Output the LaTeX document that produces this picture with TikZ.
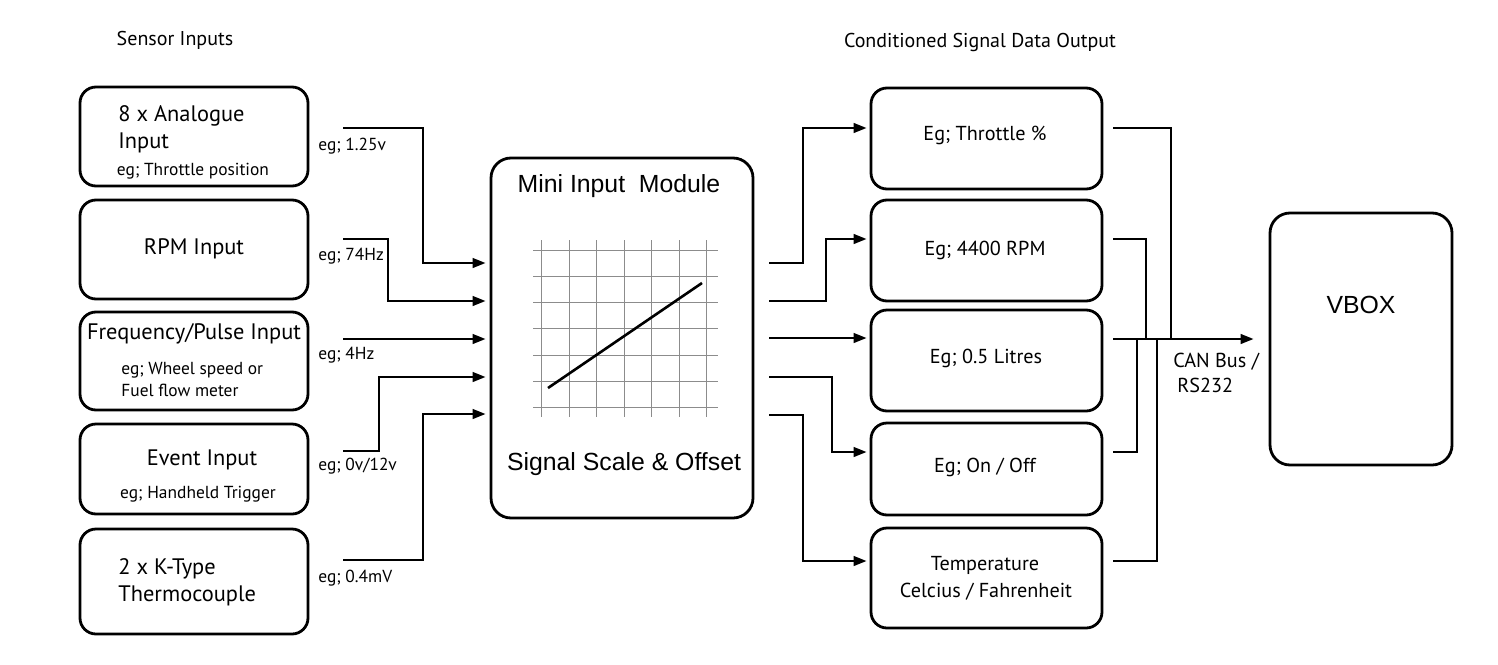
\documentclass[tikz,border=0pt]{standalone}
\usepackage{fontspec}
\setmainfont{PT Sans}
\newfontfamily\arialfont{Liberation Sans}
\usetikzlibrary{arrows.meta}
\tikzset{
  box/.style={draw, line width=1.4pt, rounded corners=8pt, inner sep=0pt},
  conn/.style={line width=1.2pt},
  arr/.style={conn, -{Triangle[length=6.5pt,width=4.8pt]}},
  txt/.style={inner sep=0pt, anchor=mid},
  bigt/.style={txt, font=\fontsize{11.2}{14}\selectfont},
  smallt/.style={txt, font=\fontsize{8.7}{11}\selectfont},
  outt/.style={txt, font=\fontsize{10.1}{13}\selectfont},
  titlet/.style={txt, font=\fontsize{10}{12}\selectfont},
  ariat/.style={txt, font=\arialfont\fontsize{12.4}{15}\selectfont},
  gridl/.style={line width=0.5pt, black!45},
}
\begin{document}
\begin{tikzpicture}[x=0.5pt, y=-0.5pt]
\useasboundingbox (0,0) rectangle (1498,664);

% titles
\node[titlet] (t1) at (175,40) {Sensor Inputs};
\node[titlet] (t2) at (980,42) {Conditioned Signal Data Output};

% input boxes
\node[box, minimum width=114pt, minimum height=49.5pt] (in1) at (194,136.5) {};
\node[box, minimum width=114pt, minimum height=49.5pt] (in2) at (194,249.5) {};
\node[box, minimum width=114pt, minimum height=49pt] (in3) at (194,361) {};
\node[box, minimum width=114pt, minimum height=45pt] (in4) at (194,469) {};
\node[box, minimum width=114pt, minimum height=52.5pt] (in5) at (194,581.5) {};

\node[bigt, anchor=mid west] (a1) at (118,116) {8 x Analogue};
\node[bigt, anchor=mid west] (a2) at (118,143) {Input};
\node[smallt] (a3) at (193,170) {eg; Throttle position};
\node[bigt] (b1) at (194,249) {RPM Input};
\node[bigt] (c1) at (194,334) {Frequency/Pulse Input};
\node[smallt, anchor=mid west] (c2) at (121,369) {eg; Wheel speed or};
\node[smallt, anchor=mid west] (c3) at (121,391) {Fuel flow meter};
\node[bigt] (d1) at (202,460) {Event Input};
\node[smallt] (d2) at (198,493) {eg; Handheld Trigger};
\node[bigt, anchor=mid west] (e1) at (118,569) {2 x K-Type};
\node[bigt, anchor=mid west] (e2) at (118,596) {Thermocouple};

% module
\node[box, rounded corners=10pt, minimum width=131pt, minimum height=180pt] (mod) at (622,338) {};
\node[ariat] (modt) at (619,187) {Mini Input\ \ Module};
\node[ariat] (mods) at (624,465) {Signal Scale \& Offset};
\foreach \i in {0,...,6} {
  \draw[gridl] (541.7+27.5*\i,240) -- (541.7+27.5*\i,417);
  \draw[gridl] (533,250+26.3*\i) -- (718,250+26.3*\i);
}
\draw[line width=1.3pt] (548,388) -- (702,283);

% input connectors
\coordinate (s1) at (343,128); \coordinate (k1) at (423,263);
\coordinate (s2) at (343,239); \coordinate (k2) at (388,301);
\coordinate (s3) at (343,339);
\coordinate (s4) at (343,451); \coordinate (k4) at (379,377);
\coordinate (s5) at (343,560); \coordinate (k5) at (423,414);
\draw[arr, shorten >=2pt] (s1) -| (k1) -- (mod.west |- k1);
\draw[arr, shorten >=2pt] (s2) -| (k2) -- (mod.west |- k2);
\draw[arr, shorten >=2pt] (s3) -- (mod.west |- s3);
\draw[arr, shorten >=2pt] (s4) -| (k4) -- (mod.west |- k4);
\draw[arr, shorten >=2pt] (s5) -| (k5) -- (mod.west |- k5);
\node[smallt, anchor=mid west] (l1) at (318,145) {eg; 1.25v};
\node[smallt, anchor=mid west] (l2) at (318,255) {eg; 74Hz};
\node[smallt, anchor=mid west] (l3) at (318,354) {eg; 4Hz};
\node[smallt, anchor=mid west] (l4) at (318,465) {eg; 0v/12v};
\node[smallt, anchor=mid west] (l5) at (318,577) {eg; 0.4mV};

% output boxes
\node[box, minimum width=115.5pt, minimum height=50.5pt] (o1) at (986.5,138.5) {};
\node[box, minimum width=115.5pt, minimum height=50.5pt] (o2) at (986.5,250.5) {};
\node[box, minimum width=115.5pt, minimum height=50.5pt] (o3) at (986.5,360.5) {};
\node[box, minimum width=115.5pt, minimum height=46pt] (o4) at (986.5,469) {};
\node[box, minimum width=115.5pt, minimum height=50pt] (o5) at (986.5,578) {};
\node[outt] (ot1) at (985,135) {Eg; Throttle \%};
\node[outt] (ot2) at (985,250) {Eg; 4400 RPM};
\node[outt] (ot3) at (986,358) {Eg; 0.5 Litres};
\node[outt] (ot4) at (985,467) {Eg; On / Off};
\node[outt] (ot5) at (985,565) {Temperature};
\node[outt] (ot6) at (986,592) {Celcius / Fahrenheit};

% output connectors
\coordinate (m1) at (769,263); \coordinate (q1) at (803,128);
\coordinate (m2) at (769,301); \coordinate (q2) at (826,239);
\coordinate (m3) at (769,338);
\coordinate (m4) at (769,377); \coordinate (q4) at (832,452);
\coordinate (m5) at (769,415); \coordinate (q5) at (803,561);
\draw[arr, shorten >=1.5pt] (m1) -| (q1) -- (o1.west |- q1);
\draw[arr, shorten >=1.5pt] (m2) -| (q2) -- (o2.west |- q2);
\draw[arr, shorten >=1.5pt] (m3) -- (o3.west |- m3);
\draw[arr, shorten >=1.5pt] (m4) -| (q4) -- (o4.west |- q4);
\draw[arr, shorten >=1.5pt] (m5) -| (q5) -- (o5.west |- q5);

% VBOX
\node[box, rounded corners=10pt, minimum width=91pt, minimum height=126pt] (vbox) at (1361,339) {};
\node[ariat] (vt) at (1361,308) {VBOX};

% bus
\coordinate (r1) at (1113,128); \coordinate (j1) at (1171,339);
\coordinate (r2) at (1113,239); \coordinate (j2) at (1146,339);
\coordinate (r3) at (1113,339);
\coordinate (r4) at (1113,452); \coordinate (j4) at (1137,339);
\coordinate (r5) at (1113,561); \coordinate (j5) at (1157,339);
\draw[conn] (r1) -| (j1);
\draw[conn] (r2) -| (j2);
\draw[conn] (r4) -| (j4);
\draw[conn] (r5) -| (j5);
\draw[arr, shorten >=7.5pt] (r3) -- (vbox.west |- r3);
\node[outt, anchor=mid west] (cb1) at (1173,362) {CAN Bus /};
\node[outt, anchor=mid west] (cb2) at (1177,387) {RS232};
\end{tikzpicture}
\end{document}
